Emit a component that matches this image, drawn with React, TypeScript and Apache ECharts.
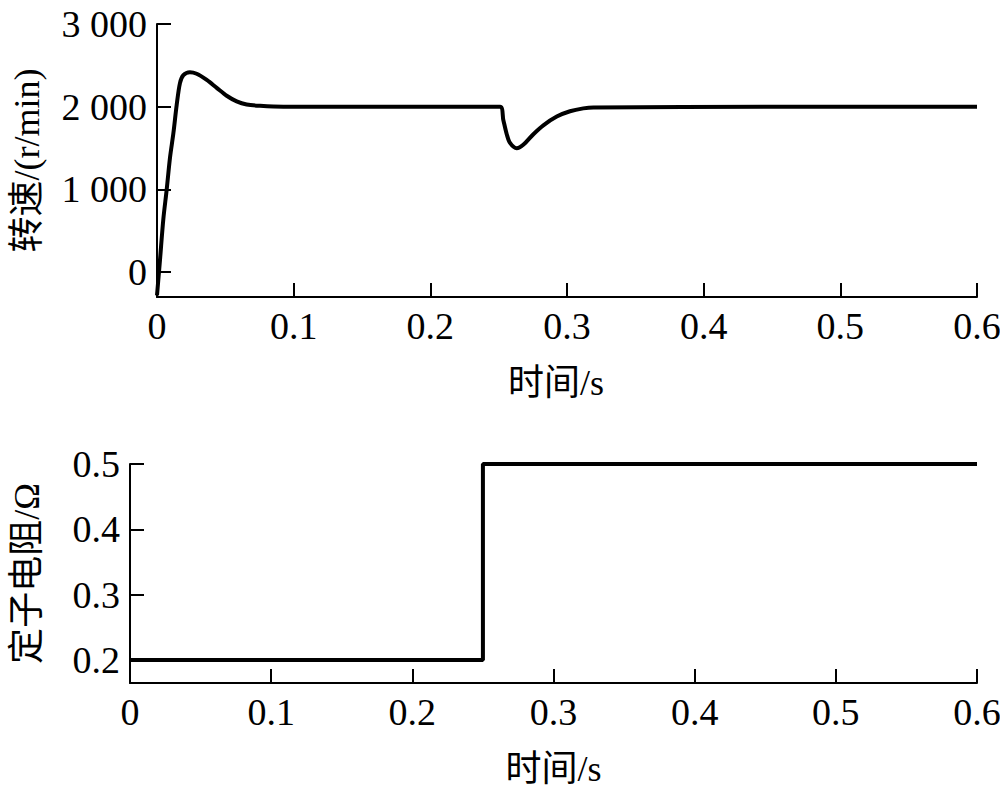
import React, { useEffect, useRef } from "react";
import * as echarts from "echarts";

// Speed response (r/min) vs time (s)
const speedTime = [0, 0.0022, 0.0046, 0.0071, 0.0095, 0.012, 0.0144, 0.0168, 0.0193, 0.0241, 0.029, 0.0364, 0.0437, 0.051, 0.0583, 0.0656, 0.0754, 0.0925, 0.17, 0.251, 0.2534, 0.2559, 0.2583, 0.2632, 0.268, 0.2754, 0.2827, 0.2925, 0.3022, 0.3119, 0.3193, 0.45, 0.6];
const speedValue = [-280, 150, 636, 1000, 1383, 1681, 2020, 2285, 2381, 2418, 2399, 2324, 2228, 2133, 2065, 2027, 2011, 2000, 2000, 2000, 1840, 1668, 1562, 1498, 1540, 1668, 1775, 1881, 1945, 1980, 1992, 2000, 2000];

// Stator resistance (Ω) vs time (s)
const resTime = [0, 0.25, 0.25, 0.6];
const resValue = [0.2, 0.2, 0.5, 0.5];

const timeTicks = [0, 0.1, 0.2, 0.3, 0.4, 0.5, 0.6];
const speedTicks = [0, 1000, 2000, 3000];
const resTicks = [0.2, 0.3, 0.4, 0.5];

const FONT = "Liberation Serif, Noto Sans CJK SC, serif";
const FS = 38;

const fmtThousands = (v: number) => {
  if (Math.abs(v) >= 1000) {
    const k = Math.floor(v / 1000);
    const r = Math.round(v - k * 1000);
    return `${k} ${String(r).padStart(3, "0")}`;
  }
  return String(Math.round(v));
};
const fmtTime = (v: number) => (Math.abs(v) < 1e-9 ? "0" : v.toFixed(1));

const axisLineStyle = { color: "#000", width: 2 };

export default function App() {
  const ref = useRef<HTMLDivElement>(null);
  useEffect(() => {
    if (!ref.current) return;
    const chart = echarts.init(ref.current, null, { renderer: "svg" });
    const textStyle = { color: "#000", fontFamily: FONT, fontSize: FS };
    const xAxisBase = (gridIndex: number, namePad: number[]) => ({
      gridIndex,
      type: "value",
      min: 0,
      max: 0.6,
      interval: 0.1,
      axisLine: { show: true, onZero: false, lineStyle: axisLineStyle },
      axisTick: { show: true, inside: true, length: 14, lineStyle: axisLineStyle, customValues: timeTicks },
      axisLabel: { ...textStyle, margin: 10, formatter: fmtTime, customValues: timeTicks },
      splitLine: { show: false },
      name: "时间/s",
      nameLocation: "middle",
      nameGap: 68,
      nameTextStyle: { ...textStyle, fontSize: 36, padding: namePad },
    });
    chart.setOption({
      animation: false,
      backgroundColor: "#fff",
      textStyle: { fontFamily: FONT },
      grid: [
        { left: 157, right: 23, top: 24, height: 273, containLabel: false, outerBoundsMode: "none" },
        { left: 130, right: 23, top: 464, height: 219, containLabel: false, outerBoundsMode: "none" },
      ],
      xAxis: [xAxisBase(0, [0, 22, 0, 0]), xAxisBase(1, [0, 0, 0, 0])],
      yAxis: [
        {
          gridIndex: 0,
          type: "value",
          min: -300,
          max: 3000,
          axisLine: { show: true, onZero: false, lineStyle: axisLineStyle },
          axisTick: { show: true, inside: true, length: 14, lineStyle: axisLineStyle, customValues: speedTicks },
          axisLabel: { ...textStyle, margin: 10, formatter: fmtThousands, customValues: speedTicks },
          splitLine: { show: false },
          name: "转速/(r/min)",
          nameLocation: "middle",
          nameGap: 112,
          nameTextStyle: { ...textStyle, fontSize: 36 },
        },
        {
          gridIndex: 1,
          type: "value",
          min: 0.165,
          max: 0.5,
          axisLine: { show: true, onZero: false, lineStyle: axisLineStyle },
          axisTick: { show: true, inside: true, length: 14, lineStyle: axisLineStyle, customValues: resTicks },
          axisLabel: { ...textStyle, margin: 10, formatter: (v: number) => v.toFixed(1), customValues: resTicks },
          splitLine: { show: false },
          name: "定子电阻/Ω",
          nameLocation: "middle",
          nameGap: 85,
          nameTextStyle: { ...textStyle, fontSize: 36 },
        },
      ],
      series: [
        {
          type: "line",
          xAxisIndex: 0,
          yAxisIndex: 0,
          data: speedTime.map((t, i) => [t, speedValue[i]]),
          showSymbol: false,
          smooth: 0.3,
          lineStyle: { color: "#000", width: 4 },
          clip: true,
        },
        {
          type: "line",
          xAxisIndex: 1,
          yAxisIndex: 1,
          data: resTime.map((t, i) => [t, resValue[i]]),
          showSymbol: false,
          lineStyle: { color: "#000", width: 4 },
          clip: false,
        },
      ],
    });
    return () => chart.dispose();
  }, []);
  return (
    <div
      ref={ref}
      style={{ position: "fixed", left: 0, top: 0, width: 1000, height: 795, background: "#fff" }}
    />
  );
}
